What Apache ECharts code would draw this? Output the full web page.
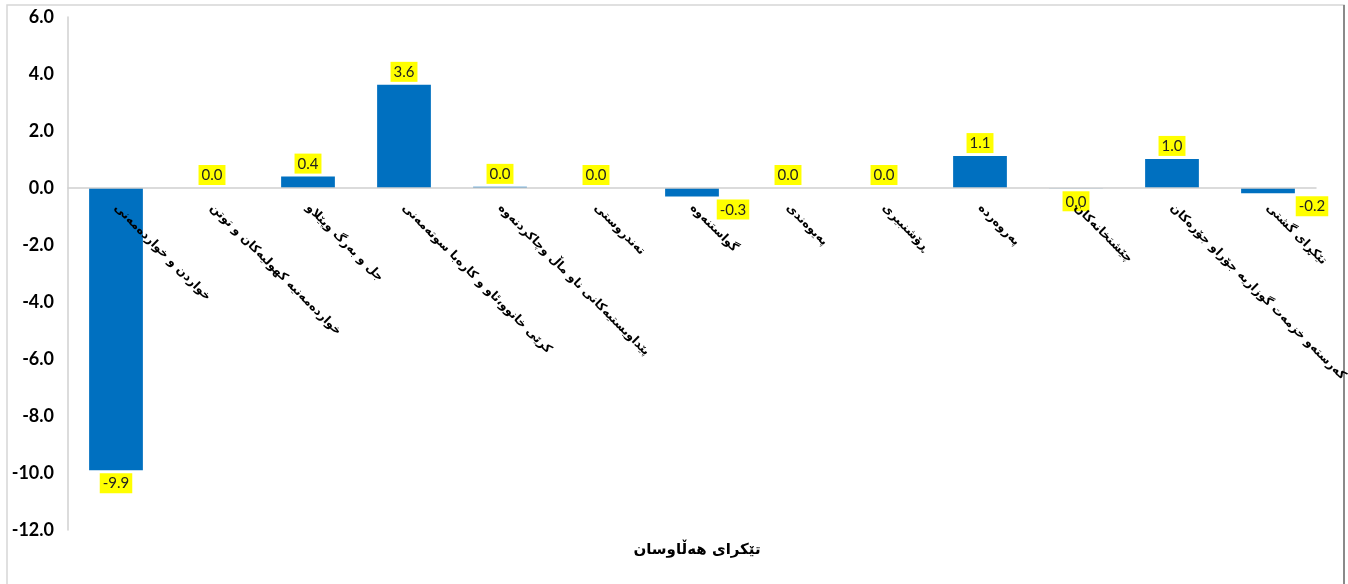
<!DOCTYPE html>
<html>
<head>
<meta charset="utf-8">
<script src="https://cdn.jsdelivr.net/npm/echarts@6/dist/echarts.min.js"></script>
<style>
html,body{margin:0;padding:0;background:#fff;}
#chart{width:1348px;height:584px;}
</style>
</head>
<body>
<div id="chart"></div>
<script>
var categories = [
  'خواردن و خواردەمەنی',
  'خواردەمەنیە کهولیەکان و توتن',
  'جل و بەرگ وپێلاو',
  'کرێی خانوو،ئاو و کارەبا سوتەمەنی',
  'پێداویستیەکانی ناو ماڵ وچاکردنەوە',
  'تەندروستی',
  'گواستنەوە',
  'پەیوەندی',
  'ڕۆشنبیری',
  'پەروەردە',
  'چێشتخانەکان',
  'کەرستەو خزمەت گوزاریە جۆراو جۆرەکان',
  'تێکڕای گشتی'
];
var values = [-9.9, 0.0, 0.4, 3.62, 0.04, 0.0, -0.3, 0.0, 0.0, 1.12, -0.01, 1.02, -0.18];
var labelShiftX = [0, 0, 0, 0, 0, 0, 41, 0, 0, 0, 0, 0, 44];
var yTicks = [-12, -10, -8, -6, -4, -2, 0, 2, 4, 6];
var axisTitle = 'تێکرای هەڵاوسان';

var data = values.map(function (v, i) {
  var neg = v < 0;
  return {
    value: v,
    label: {
      position: neg ? 'bottom' : 'top',
      offset: [labelShiftX[i], 0]
    }
  };
});

var gridTop = 17, gridBottom = 54, chartH = 584;
var plotH = chartH - gridTop - gridBottom;
var yMin = yTicks[0], yMax = yTicks[yTicks.length - 1];
var zeroOffset = -plotH * (0 - yMin) / (yMax - yMin);

var chart = echarts.init(document.getElementById('chart'), null, {renderer: 'canvas'});
chart.setOption({
  backgroundColor: '#ffffff',
  animation: false,
  graphic: [
    {type: 'rect', shape: {x: 7, y: 5, width: 1337, height: 620}, style: {fill: 'none', stroke: '#d6d6d6', lineWidth: 1.5}, silent: true},
    {type: 'line', shape: {x1: 1344, y1: 5, x2: 1344, y2: 584}, style: {stroke: '#8a8a8a', lineWidth: 2}, silent: true}
  ],
  title: {
    text: axisTitle,
    left: 692,
    top: 538,
    textAlign: 'center',
    textStyle: {fontFamily: 'DejaVu Sans', fontWeight: 'bold', fontSize: 15, color: '#000'}
  },
  grid: {left: 68, right: 32, top: gridTop, bottom: gridBottom, containLabel: false, outerBoundsMode: 'none'},
  xAxis: {
    type: 'category',
    data: categories,
    offset: zeroOffset,
    z: 5,
    axisLine: {show: true, onZero: false, lineStyle: {color: '#d0d0d0', width: 1.5}},
    axisTick: {show: false},
    axisLabel: {
      interval: 0,
      rotate: -45,
      margin: 18,
      fontFamily: 'DejaVu Sans',
      fontWeight: 'bold',
      fontSize: 12,
      color: '#000'
    }
  },
  yAxis: {
    type: 'value',
    min: yMin,
    max: yMax,
    interval: 2,
    axisLine: {show: true, lineStyle: {color: '#d0d0d0', width: 1.5}},
    axisTick: {show: false},
    splitLine: {show: false},
    axisLabel: {
      margin: 14,
      fontFamily: 'Lato',
      fontWeight: 'bold',
      fontSize: 18,
      color: '#000',
      formatter: function (v) { return v.toFixed(1); }
    }
  },
  series: [{
    type: 'bar',
    data: data,
    barCategoryGap: '44%',
    itemStyle: {color: '#0070C0'},
    label: {
      show: true,
      distance: 3,
      backgroundColor: '#FFFF00',
      padding: [3, 3, 2, 3],
      color: '#222',
      fontFamily: 'Lato',
      fontSize: 15,
      formatter: function (p) {
        var r = Math.round(p.value * 10) / 10;
        return Math.abs(r).toFixed(1) === '0.0' ? '0.0' : r.toFixed(1);
      }
    }
  }]
});
</script>
</body>
</html>
